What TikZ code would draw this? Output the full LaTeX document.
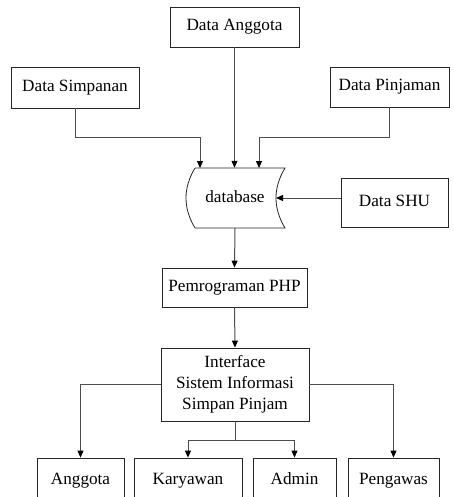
\documentclass[tikz,border=0pt]{standalone}
\usepackage{fontspec}
\setmainfont{Liberation Serif}
\usetikzlibrary{arrows.meta}
\begin{document}
\begin{tikzpicture}[x=1pt,y=-1pt,
  txt/.style={font=\fontsize{17.2}{21}\selectfont},
  box/.style={txt,draw=black!85,line width=0.8pt,inner sep=0pt},
  one/.style={text height=11.5pt,text depth=3.5pt},
  conn/.style={draw=black!70,line width=1pt},
  arr/.style={conn,-{Triangle[length=7pt,width=6pt,color=black]}}]
\useasboundingbox (0,0) rectangle (453,497);
\clip (0,0) rectangle (453,497);
\fill[white] (0,0) rectangle (453,497);
% top boxes
\node[box,one,minimum width=129pt,minimum height=40pt] (da) at (234.5,27) {Data Anggota};
\node[box,one,minimum width=128pt,minimum height=41pt] (ds) at (75,87.5) {Data Simpanan};
\node[box,one,minimum width=119pt,minimum height=40pt] (dp) at (389.5,87) {Data Pinjaman};
\node[box,one,minimum width=107pt,minimum height=49pt] (shu) at (394.5,202.5) {Data SHU};
% database
\draw[draw=black!85,line width=0.8pt] (195,168) -- (285,168) .. controls (273,188) and (273,208) .. (285,228) -- (195,228) .. controls (183,208) and (183,188) .. (195,168);
\node[txt,one,minimum width=100pt,minimum height=60pt,inner sep=0pt] (db) at (235,198) {database};
\coordinate (in1) at (200,168);
\coordinate (in3) at (259,168);
\coordinate (inR) at (276,198);
\coordinate (j1) at (200,138);
\coordinate (j3) at (259,138);
% middle
\node[box,one,minimum width=145pt,minimum height=39pt] (php) at (234.5,287.5) {Pemrograman PHP};
\node[box,minimum width=148pt,minimum height=73pt,align=center] (intf) at (235,384.5) {Interface\\Sistem Informasi\\Simpan Pinjam};
% bottom
\node[box,one,minimum width=87pt,minimum height=44pt] (ang) at (80.5,480) {Anggota};
\node[box,one,minimum width=108pt,minimum height=44pt] (kar) at (188,480) {Karyawan};
\node[box,one,minimum width=83pt,minimum height=44pt] (adm) at (294.5,480) {Admin};
\node[box,one,minimum width=91pt,minimum height=44pt] (peng) at (393.5,480) {Pengawas};
\coordinate (jm) at (235,440);
% connectors
\draw[arr] (da.south) -- (da.south |- db.north);
\draw[arr] (ds.south) |- (j1) -- (in1);
\draw[arr] (dp.south) |- (j3) -- (in3);
\draw[arr] (shu.west |- inR) -- (inR);
\draw[arr] (db.south) -- (php.north);
\draw[arr] (php.south) -- (intf.north);
\draw[arr] (intf.west) -| (ang.north);
\draw[arr] (intf.east) -| (peng.north);
\draw[conn] (intf.south) -- (jm);
\draw[arr] (jm) -| (kar.north);
\draw[arr] (jm) -| (adm.north);
\end{tikzpicture}
\end{document}
